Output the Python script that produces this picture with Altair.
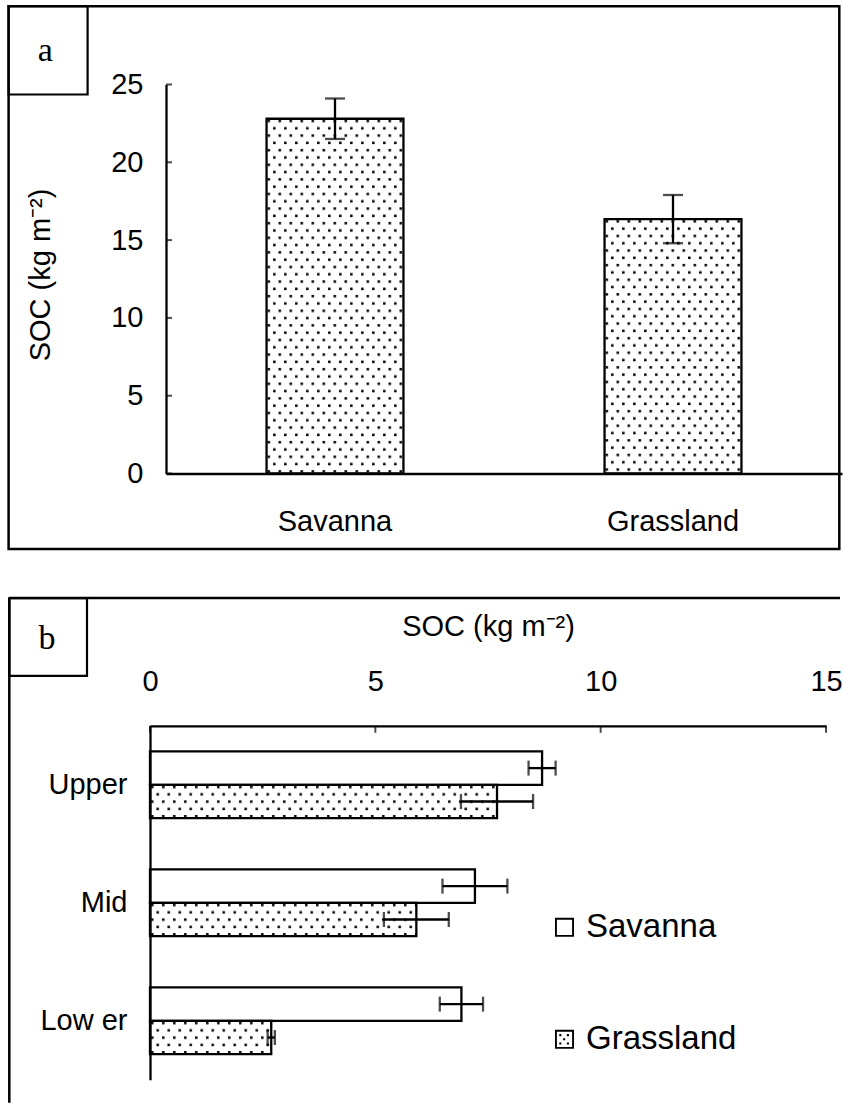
import urllib.parse
import altair as alt
import pandas as pd

FONT = "Liberation Sans"
SERIF = "Liberation Serif"

# ---------------- data: panel a ----------------
A_CATS = ["Savanna", "Grassland"]
A_MEAN = [22.8, 16.35]
A_ERR = [1.3, 1.55]
A_TICKS = [0, 5, 10, 15, 20, 25]

# ---------------- data: panel b ----------------
B_ZONES = ["Upper", "Mid", "Low er"]
B_SERIES = ["Savanna", "Grassland"]
B_SAV = [8.70, 7.21, 6.91]
B_SAV_ERR = [0.30, 0.72, 0.48]
B_GRA = [7.70, 5.91, 2.69]
B_GRA_ERR = [0.80, 0.72, 0.08]
B_TICKS = [0, 5, 10, 15]

a_df = pd.DataFrame({"cat": A_CATS, "mean": A_MEAN, "err": A_ERR})
a_df["lo"] = a_df["mean"] - a_df["err"]
a_df["hi"] = a_df["mean"] + a_df["err"]

rows = []
for i, z in enumerate(B_ZONES):
    rows.append({"zone": z, "series": "Savanna", "val": B_SAV[i], "err": B_SAV_ERR[i]})
    rows.append({"zone": z, "series": "Grassland", "val": B_GRA[i], "err": B_GRA_ERR[i]})
b_df = pd.DataFrame(rows)
b_df["lo"] = b_df["val"] - b_df["err"]
b_df["hi"] = b_df["val"] + b_df["err"]

one = alt.Data(values=[{}])

# dotted fill pattern (SVG image)
PATTERN_SVG = (
    '<svg xmlns="http://www.w3.org/2000/svg" width="100%" height="100%">'
    '<defs><pattern id="d" width="11" height="14.6" patternUnits="userSpaceOnUse">'
    '<rect x="1" y="1" width="2.5" height="2.5" fill="black"/>'
    '<rect x="6.5" y="8.3" width="2.5" height="2.5" fill="black"/>'
    '</pattern></defs>'
    '<rect width="100%" height="100%" fill="url(#d)"/></svg>'
)
PATTERN = "data:image/svg+xml;charset=utf-8," + urllib.parse.quote(PATTERN_SVG)

LW = 2.3
TITLE = "SOC (kg m\u207b\u00b2)"

# ---------------- panel a ----------------
W_A, H_A = 676, 389

xa_axis = alt.Axis(title=None, labelFont=FONT, labelFontSize=29, labelColor="black",
                   labelPadding=57, labelBaseline="alphabetic", labelAngle=0,
                   ticks=False, tickSize=0, domainColor="black", domainWidth=LW)
ya_axis = alt.Axis(title=TITLE, values=A_TICKS, grid=False, ticks=False, tickSize=0,
                   labelFont=FONT, labelFontSize=29, labelColor="black", labelPadding=23,
                   labelFlush=False,
                   domainColor="black", domainWidth=LW,
                   titleFont=FONT, titleFontSize=29, titleFontWeight="normal",
                   titleColor="black", titleX=-126, titleY=190, titleBaseline="middle",
                   titleAlign="center", titleAngle=270)

xa = alt.X("cat:N", sort=A_CATS,
           scale=alt.Scale(paddingInner=0.595, paddingOuter=0.2975), axis=xa_axis)
ya = alt.Y("mean:Q", scale=alt.Scale(domain=[0, 25], nice=False), axis=ya_axis)

a_frame = alt.Chart(one).mark_rect(fillOpacity=0, stroke="black", strokeWidth=2.5).encode(
    x=alt.value(-157.4), x2=alt.value(673.3), y=alt.value(-78.3), y2=alt.value(464.5))
a_box = alt.Chart(one).mark_rect(fillOpacity=0, stroke="black", strokeWidth=2.2).encode(
    x=alt.value(-157.4), x2=alt.value(-78.4), y=alt.value(-78.3), y2=alt.value(10))
a_lab = alt.Chart(one).mark_text(text="a", font=SERIF, fontSize=34, align="center",
                                 baseline="middle", color="black").encode(
    x=alt.value(-120.7), y=alt.value(-34))

a_img = alt.Chart(a_df).mark_image(url=PATTERN, aspect=False).encode(
    x=xa, y=ya, y2=alt.datum(0))
a_bar = alt.Chart(a_df).mark_bar(fill="white", fillOpacity=0, stroke="black",
                                 strokeWidth=LW).encode(
    x=alt.X("cat:N", sort=A_CATS), y=alt.Y("mean:Q"))
a_rule = alt.Chart(a_df).mark_rule(color="black", strokeWidth=LW).encode(
    x=alt.X("cat:N", sort=A_CATS), y=alt.Y("lo:Q"), y2="hi:Q")
a_cap_lo = alt.Chart(a_df).mark_tick(color="black", size=20, thickness=LW,
                                     orient="horizontal").encode(
    x=alt.X("cat:N", sort=A_CATS), y=alt.Y("lo:Q"))
a_cap_hi = alt.Chart(a_df).mark_tick(color="black", size=20, thickness=LW,
                                     orient="horizontal").encode(
    x=alt.X("cat:N", sort=A_CATS), y=alt.Y("hi:Q"))
a_ticks = alt.Chart(pd.DataFrame({"t": A_TICKS})).mark_tick(
    color="black", size=6, thickness=2, orient="horizontal").encode(
    y=alt.Y("t:Q"), x=alt.value(3))

panel_a = alt.layer(a_img, a_bar, a_rule, a_cap_lo, a_cap_hi, a_ticks,
                    a_frame, a_box, a_lab).properties(width=W_A, height=H_A)

# ---------------- panel b ----------------
W_B, H_B = 660, 354

xb_axis = alt.Axis(orient="top", title=TITLE, values=B_TICKS, grid=False, ticks=False,
                   tickSize=0, labelFont=FONT, labelFontSize=29, labelColor="black",
                   labelPadding=35, labelBaseline="alphabetic", labelFlush=False,
                   domainColor="black", domainWidth=LW,
                   titleFont=FONT, titleFontSize=29, titleFontWeight="normal",
                   titleColor="black", titleY=-90, titleBaseline="alphabetic")
yb_axis = alt.Axis(title=None, offset=16, ticks=False, tickSize=0, labelFont=FONT,
                   labelFontSize=29, labelColor="black", labelPadding=23,
                   domainColor="black", domainWidth=LW)

xb = alt.X("val:Q", scale=alt.Scale(domain=[0, 15], nice=False, range=[-16, W_B]),
           axis=xb_axis)
yb = alt.Y("zone:N", sort=B_ZONES, scale=alt.Scale(paddingInner=0.434, paddingOuter=0.217),
           axis=yb_axis)
yob = alt.YOffset("series:N", sort=B_SERIES, scale=alt.Scale(paddingInner=0, paddingOuter=0))

yb_plain = alt.Y("zone:N", sort=B_ZONES)
yob_plain = alt.YOffset("series:N", sort=B_SERIES)

P_FRAME = "M-1,-1H1V1H-1Z M-0.8,-0.8V0.8H0.8V-0.8Z"
P_DOTS = (P_FRAME +
          " M-0.55,-0.55H-0.33V-0.33H-0.55Z M0.25,-0.55H0.47V-0.33H0.25Z"
          " M-0.15,-0.11H0.07V0.11H-0.15Z"
          " M-0.55,0.33H-0.33V0.55H-0.55Z M0.25,0.33H0.47V0.55H0.25Z")

b_img = alt.Chart(b_df).transform_filter(alt.datum.series == "Grassland").mark_image(
    url=PATTERN, aspect=False).encode(x=xb, x2=alt.datum(0), y=yb, yOffset=yob)
b_bar = alt.Chart(b_df).mark_bar(fill="white", fillOpacity=0, stroke="black",
                                 strokeWidth=LW).encode(
    x=alt.X("val:Q"), y=yb_plain, yOffset=yob_plain)
b_rule = alt.Chart(b_df).mark_rule(color="black", strokeWidth=LW).encode(
    x=alt.X("lo:Q"), x2="hi:Q", y=yb_plain, yOffset=yob_plain)
b_cap_lo = alt.Chart(b_df).mark_tick(color="black", size=15, thickness=LW,
                                     orient="vertical").encode(
    x=alt.X("lo:Q"), y=yb_plain, yOffset=yob_plain)
b_cap_hi = alt.Chart(b_df).mark_tick(color="black", size=15, thickness=LW,
                                     orient="vertical").encode(
    x=alt.X("hi:Q"), y=yb_plain, yOffset=yob_plain)
b_ticks = alt.Chart(pd.DataFrame({"t": B_TICKS})).mark_tick(
    color="black", size=7, thickness=2, orient="vertical").encode(
    x=alt.X("t:Q"), y=alt.value(3.5))
b_legend = alt.Chart(b_df).mark_point(filled=True, opacity=0, color="black").encode(
    x=alt.X("val:Q"), y=yb_plain, yOffset=yob_plain,
    shape=alt.Shape("series:N", sort=B_SERIES,
                    scale=alt.Scale(domain=B_SERIES, range=[P_FRAME, P_DOTS]),
                    legend=alt.Legend(title=None, orient="none", legendX=382, legendY=185,
                                      direction="vertical", symbolSize=361,
                                      symbolStrokeWidth=0, symbolFillColor="black",
                                      symbolOpacity=1, labelFont=FONT, labelFontSize=33,
                                      labelColor="black", labelOffset=5, rowPadding=78,
                                      padding=0)))

b_top = alt.Chart(one).mark_rule(color="black", strokeWidth=2.5).encode(
    x=alt.value(-156.7), x2=alt.value(674), y=alt.value(-127.7))
b_left = alt.Chart(one).mark_rule(color="black", strokeWidth=2.5).encode(
    x=alt.value(-156.7), y=alt.value(-127.7), y2=alt.value(377))
b_box = alt.Chart(one).mark_rect(fillOpacity=0, stroke="black", strokeWidth=2.2).encode(
    x=alt.value(-156.7), x2=alt.value(-79), y=alt.value(-127.7), y2=alt.value(-50))
b_lab = alt.Chart(one).mark_text(text="b", font=SERIF, fontSize=34, align="center",
                                 baseline="middle", color="black").encode(
    x=alt.value(-119), y=alt.value(-87))

panel_b = alt.layer(b_img, b_bar, b_rule, b_cap_lo, b_cap_hi, b_ticks, b_legend,
                    b_top, b_left, b_box, b_lab).properties(width=W_B, height=H_B)

chart = alt.vconcat(panel_a, panel_b, spacing=46.3).resolve_legend(
    shape="independent"
).properties(
    padding={"left": 7, "top": 4.5, "right": 0, "bottom": 0},
    background="white",
).configure_view(strokeWidth=0)

chart.save("out.html", embed_options={"renderer": "svg", "actions": False})
